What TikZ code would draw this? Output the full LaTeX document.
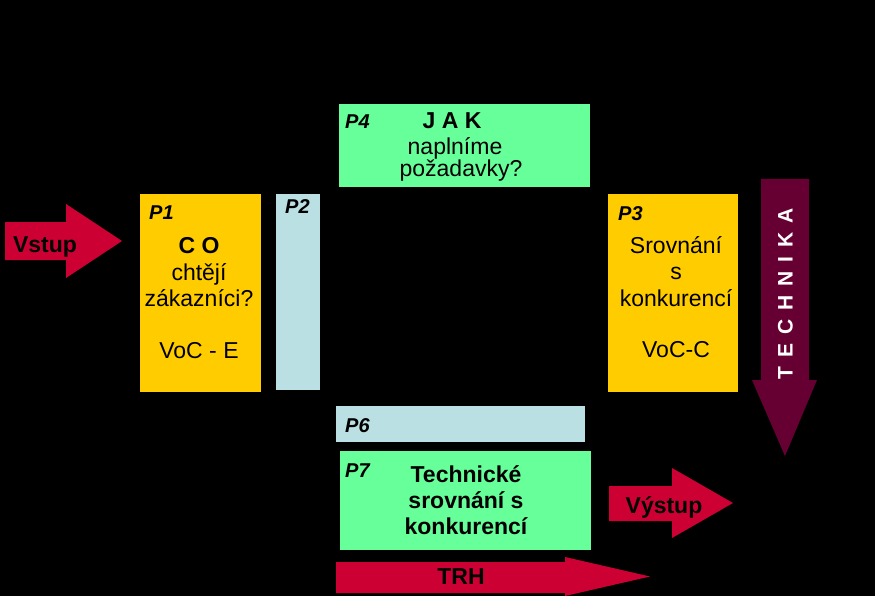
\documentclass[tikz,border=0pt]{standalone}
\usepackage{fontspec}
\setmainfont{Liberation Sans}
\begin{document}
\begin{tikzpicture}[x=1pt,y=-1pt,
  box/.style={inner sep=0pt,outer sep=0pt,draw=none},
  txt/.style={inner sep=0pt,anchor=base,font=\fontsize{23}{26}\selectfont},
  btxt/.style={txt,font=\fontsize{23}{26}\selectfont\bfseries},
  plabel/.style={inner sep=0pt,anchor=base west,font=\fontsize{20}{24}\selectfont\bfseries\itshape}]
\definecolor{yel}{HTML}{FFCC00}
\definecolor{lblue}{HTML}{BBE0E3}
\definecolor{lgreen}{HTML}{66FF99}
\definecolor{crim}{HTML}{CC0033}
\definecolor{maroon}{HTML}{660033}
\fill[black] (0,0) rectangle (875,596);
\useasboundingbox (0,0) rectangle (875,596);
% boxes
\node[box,fill=yel,minimum width=121pt,minimum height=198pt] (p1) at (200.5,293) {};
\node[box,fill=lblue,minimum width=44pt,minimum height=196pt] (p2) at (298,292) {};
\node[box,fill=lgreen,minimum width=251pt,minimum height=83pt] (p4) at (464.5,145.5) {};
\node[box,fill=yel,minimum width=130pt,minimum height=198pt] (p3) at (673,293) {};
\node[box,fill=lblue,minimum width=249pt,minimum height=36pt] (p6) at (460.5,424) {};
\node[box,fill=lgreen,minimum width=251pt,minimum height=99pt] (p7) at (465.5,500.5) {};
% arrows
\fill[crim] (5,222) -- (66,222) -- (66,204) -- (122,241) -- (66,278) -- (66,260) -- (5,260) -- cycle;
\fill[maroon] (761,179) -- (809,179) -- (809,380) -- (817,380) -- (785,456) -- (752,380) -- (761,380) -- cycle;
\fill[crim] (609,486) -- (672,486) -- (672,468) -- (733,503) -- (672,538) -- (672,521) -- (609,521) -- cycle;
\fill[crim] (336,562) -- (565,562) -- (565,557) -- (650,576.5) -- (565,596) -- (565,593) -- (336,593) -- cycle;
% labels
\node[plabel] (l1) at (149,219) {P1};
\node[plabel] (l2) at (285,213) {P2};
\node[plabel] (l4) at (345,129) {P4};
\node[plabel] (l3) at (618,220) {P3};
\node[plabel] (l6) at (345,432) {P6};
\node[plabel] (l7) at (345,477) {P7};
% P1 text
\node[btxt] (t1a) at (199,253) {C O};
\node[txt] (t1b) at (199,280) {chtějí};
\node[txt] (t1c) at (199,306) {zákazníci?};
\node[txt] (t1d) at (199,358) {VoC - E};
% P4 text
\node[btxt] (t4a) at (452,129) {J A K};
\node[txt] (t4b) at (455,155) {naplníme};
\node[txt] (t4c) at (461,177) {požadavky?};
% P3 text
\node[txt] (t3a) at (676,253) {Srovnání};
\node[txt] (t3b) at (676,279) {s};
\node[txt] (t3c) at (676,306) {konkurencí};
\node[txt] (t3d) at (676,357) {VoC-C};
% P7 text
\node[btxt] (t7a) at (466,482) {Technické};
\node[btxt] (t7b) at (466,508) {srovnání s};
\node[btxt] (t7c) at (466,534) {konkurencí};
% arrow texts
\node[btxt] (vstup) at (45,252) {Vstup};
\node[btxt] (vystup) at (664,513) {Výstup};
\node[btxt] (trh) at (461,584) {TRH};
\node[inner sep=0pt,rotate=90,text=white,font=\fontsize{21}{24}\selectfont\bfseries] (tech) at (785.5,294)
  {T\hspace{9pt}E\hspace{9pt}C\hspace{9pt}H\hspace{9pt}N\hspace{9pt}I\hspace{9pt}K\hspace{9pt}A};
\end{tikzpicture}
\end{document}
